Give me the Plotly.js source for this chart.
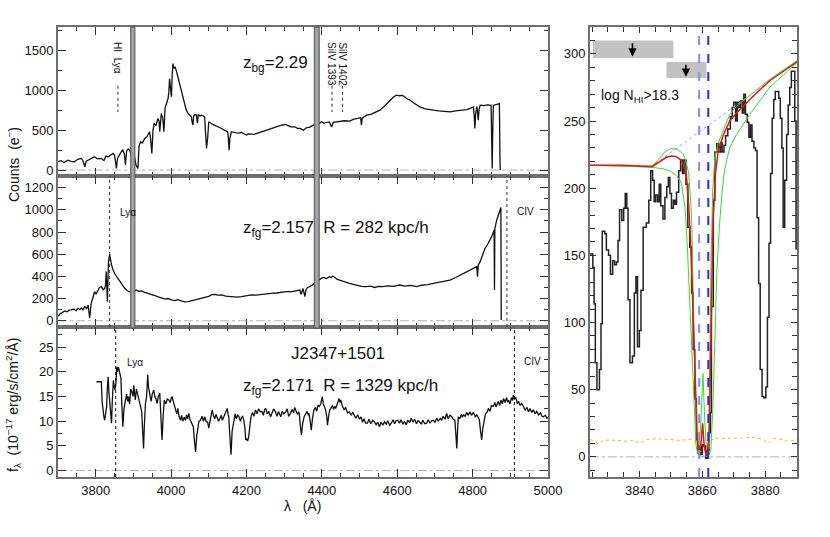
<!DOCTYPE html>
<html>
<head>
<meta charset="utf-8">
<script src="https://cdn.plot.ly/plotly-3.0.1.min.js"></script>
<style>html,body{margin:0;padding:0;background:#fff}#chart{width:830px;height:537px}</style>
</head>
<body>
<div id="chart"></div>
<script>
// background quasar spectrum (counts)
const bgWave = [3700,3708,3716,3726,3735,3744,3752,3762,3766,3771,3775,3780,3788,3797,3805,3815,3822,3827,3833,3840,3846,3850,3855,3858,3864,3868,3872,3876,3879,3882,3886,3890,3895,3900,3903,3907,3912,3915,3919,3924,3930,3936,3943,3946,3949,3952,3955,3960,3965,3968,3970,3972,3974,3978,3981,3984,3988,3992,3994,3996,3998,4001,4003,4005,4008,4011,4015,4019,4023,4027,4031,4036,4040,4045,4050,4054,4056,4058,4060,4064,4067,4070,4072,4076,4081,4085,4089,4091,4094,4097,4100,4108,4116,4125,4134,4142,4150,4152,4154,4156,4160,4170,4180,4187,4195,4200,4205,4213,4220,4230,4240,4250,4258,4266,4275,4285,4293,4302,4310,4318,4328,4335,4342,4351,4359,4368,4377,4385,4394,4399,4405,4412,4420,4424,4426,4430,4440,4450,4460,4474,4485,4495,4503,4505,4507,4512,4519,4530,4540,4554,4565,4575,4581,4590,4598,4605,4612,4616,4625,4634,4645,4660,4675,4685,4696,4710,4725,4740,4755,4765,4775,4785,4795,4802,4804,4806,4808,4811,4813,4815,4817,4820,4830,4840,4849,4851,4852,4853,4855,4860,4866,4871,4872,4873];
const bgCounts = [105,118,95,125,110,105,135,146,120,42,110,125,150,167,140,146,120,175,167,190,209,185,21,150,209,230,251,200,63,240,264,250,180,140,167,60,21,300,356,340,398,420,482,380,209,500,586,560,649,620,482,680,712,650,482,780,858,900,980,1152,1050,921,1200,1340,1280,1298,1230,1152,1060,984,900,816,760,712,690,670,600,565,680,700,691,590,700,680,691,680,670,500,272,400,607,580,565,545,523,500,482,400,251,400,482,470,465,473,450,440,455,448,450,465,482,500,515,523,540,560,565,573,560,545,544,525,523,502,532,540,565,570,590,607,590,600,605,560,544,599,605,610,620,616,640,650,660,565,650,670,691,700,720,754,800,850,879,920,942,935,940,934,900,879,840,795,770,760,754,745,740,733,745,750,754,760,780,795,700,523,700,800,740,628,760,816,810,820,815,400,21,400,816,820,830,837,400,0];

// foreground quasar spectrum (counts)
const fgWave = [3700,3705,3712,3718,3724,3730,3735,3742,3748,3753,3758,3762,3766,3771,3776,3780,3784,3786,3788,3792,3797,3801,3806,3810,3815,3820,3824,3826,3828,3830,3831,3833,3834,3837,3839,3842,3846,3850,3857,3864,3870,3877,3884,3890,3895,3900,3904,3908,3914,3921,3930,3939,3948,3957,3966,3974,3985,3992,4001,4010,4018,4027,4036,4045,4054,4063,4075,4089,4100,4108,4116,4125,4134,4145,4160,4175,4187,4200,4213,4225,4240,4252,4266,4280,4293,4305,4320,4330,4337,4342,4344,4346,4350,4355,4358,4362,4368,4375,4381,4390,4398,4405,4412,4420,4425,4429,4435,4440,4447,4455,4465,4473,4485,4495,4505,4517,4530,4540,4550,4561,4575,4590,4606,4620,4635,4652,4665,4680,4696,4710,4725,4740,4755,4767,4780,4793,4803,4811,4813,4815,4820,4826,4833,4840,4846,4852,4857,4858,4859,4864,4870,4875,4876];
const fgCounts = [40,60,75,88,80,95,97,105,90,112,100,115,97,127,110,142,22,120,157,200,262,240,277,300,307,280,292,320,443,300,172,420,533,599,540,503,460,428,390,352,320,292,270,262,255,250,270,277,265,268,255,247,235,226,215,208,195,200,187,182,190,178,170,172,180,187,200,208,220,235,238,230,232,222,217,212,217,225,232,230,238,245,247,250,256,262,262,270,277,277,240,247,290,217,280,300,307,320,337,360,382,390,380,397,390,403,385,375,367,355,345,337,325,320,310,307,312,300,310,307,315,310,322,312,318,307,320,325,337,345,355,367,390,412,435,458,475,488,397,500,533,590,653,690,728,770,819,277,830,909,970,1023,6];

// flux-calibrated spectrum of J2347+1501
const fluxWave = [3802,3815,3817,3820,3822,3824,3827,3829,3831,3833,3835,3838,3840,3842,3844,3847,3849,3851,3854,3856,3858,3860,3862,3864,3867,3869,3870,3872,3875,3878,3882,3885,3887,3890,3893,3896,3899,3901,3903,3905,3908,3911,3914,3918,3922,3925,3927,3929,3932,3935,3938,3940,3942,3944,3947,3950,3954,3957,3960,3963,3966,3970,3973,3976,3979,3982,3986,3990,3994,3998,4001,4003,4006,4009,4012,4015,4018,4021,4025,4028,4031,4035,4038,4041,4044,4047,4050,4053,4056,4059,4062,4065,4068,4071,4074,4078,4082,4086,4089,4093,4097,4100,4103,4106,4109,4113,4116,4119,4122,4126,4130,4133,4136,4140,4144,4149,4151,4153,4156,4159,4162,4166,4170,4173,4177,4180,4184,4187,4190,4193,4196,4198,4200,4203,4206,4209,4212,4216,4220,4224,4228,4232,4237,4241,4245,4248,4251,4255,4259,4264,4268,4272,4277,4281,4285,4288,4291,4295,4299,4304,4308,4312,4317,4321,4325,4328,4331,4335,4338,4340,4343,4346,4349,4353,4357,4361,4364,4366,4369,4372,4375,4379,4383,4386,4390,4393,4397,4401,4404,4407,4410,4413,4415,4418,4421,4424,4428,4431,4434,4437,4441,4444,4446,4448,4450,4454,4459,4463,4468,4473,4478,4482,4486,4490,4495,4500,4504,4508,4512,4516,4521,4525,4530,4535,4539,4544,4548,4553,4557,4562,4566,4571,4575,4580,4584,4589,4593,4597,4602,4606,4610,4615,4619,4624,4628,4633,4637,4642,4646,4651,4655,4659,4664,4668,4673,4678,4682,4687,4691,4696,4700,4705,4709,4714,4718,4722,4727,4731,4735,4740,4745,4749,4753,4756,4758,4760,4762,4766,4770,4773,4776,4780,4784,4788,4793,4797,4802,4807,4811,4815,4818,4821,4824,4827,4830,4834,4838,4842,4846,4850,4855,4859,4862,4865,4868,4872,4875,4879,4882,4886,4890,4893,4895,4899,4903,4906,4908,4911,4915,4918,4922,4926,4930,4935,4939,4944,4948,4952,4957,4961,4966,4970,4975,4980,4984,4988,4993,4997,5000];
const fluxVal = [18,18,14,11.6,10.8,10.2,12,13,17,19,16,13.6,11,9.6,14,18.3,17,16.3,18,21,20,21,20.4,19.5,18.7,14,11,8.9,12.5,13.6,15.5,14,15,13.5,16.5,16,15,17.3,16,14.3,16.5,15.7,14.5,13.3,12,8,4.5,9,13.6,15,19.4,17,16,15,14,15.5,16.3,15,14.5,13.6,15,15.7,12,6.2,11,14.3,13.5,14.5,14.3,13.8,14.8,15,14,13,12.3,11.5,12.6,11,10.2,11.2,10,10.8,10.2,11.3,10.5,11.6,10.4,9.8,9.5,8.9,6,3.8,7,8.9,10,10.2,11,10,10.9,10,9.8,8.6,10,11.5,12.3,11,10.5,11.4,10.9,10,10.6,11.2,10.2,11,11.5,12.6,11.5,10.9,7,3.2,8,10.2,11.5,10.5,11.3,10.9,10,10.8,11,10.2,8.5,6.2,6.5,6,6.9,9,10.9,11.8,11,12.3,11.5,12.5,11.9,12,11.2,12.3,12.6,11.5,12,10.9,11.8,12.5,11.9,11,12,11.3,10.9,12,11.5,11.9,12.5,11,11.6,12.4,11.7,12.8,12.3,11.4,11.8,11.6,9,7.2,9.5,10.9,11.5,12,11.2,11.6,10,8.2,10.5,12.3,12.8,12,13.2,13,13.5,15,13.5,13,12.3,11,9.2,11,12.3,12.6,13.2,12.4,13,12.6,13.5,14.2,14.6,13.8,14.3,13.2,12.3,12.8,11.7,11.9,11.2,11.8,11.3,10.6,11.3,10.4,10.9,9.8,10.5,9.6,9.6,10.4,9.5,10.2,9.9,9.3,9.8,8.9,9.8,9.2,9.9,9.4,10.1,9.2,9.6,10.3,9.5,10.1,10.2,9.6,10.3,9.4,9.9,9.3,10.2,9.7,10.6,9.8,10.4,9.5,10.1,9.9,9.4,10.2,9.5,9.6,10.3,9.6,10.1,10.2,9.8,10.6,10,10.6,10.2,11,10.4,11.6,10.5,11.2,10.9,10.4,10.2,7,4.5,8,10.9,10.5,11.4,10.8,11.3,11,11.8,11.2,11.9,11.2,11.8,10.9,11.3,10.8,10.2,8,6.2,8.5,10.2,11.5,11.8,12.6,12,13.2,13,13.8,12.9,13.6,14,13.2,14.3,13.5,14.6,13.8,14.8,13.9,14.3,13.5,14.8,14.2,15.3,14.5,14.8,13.6,14,13.2,13.6,13,12.2,12.8,11.9,12.6,11.8,12.3,11.5,12,11.3,11.7,11,10.9,11.2,10.6,10.8];

// zoom on the absorber (counts per pixel, stepped)
const zoomWave = [3824.3,3825.2,3825.6,3826.0,3826.5,3827.3,3827.8,3828.2,3829.0,3829.5,3830.2,3830.8,3831.5,3832.1,3832.7,3833.2,3833.7,3834.4,3835.0,3835.5,3836.0,3836.4,3837.0,3837.8,3838.4,3838.9,3839.4,3840.0,3840.5,3841.2,3842.2,3843.0,3843.6,3844.2,3844.7,3845.2,3845.8,3846.3,3846.8,3847.5,3848.1,3848.7,3849.2,3849.7,3850.2,3850.8,3851.3,3851.8,3852.5,3853.1,3853.7,3854.2,3854.8,3855.4,3856.0,3856.6,3857.1,3857.6,3858.1,3858.5,3859.0,3859.5,3860.0,3860.5,3861.1,3861.6,3862.1,3862.6,3862.9,3863.5,3864.0,3864.6,3865.2,3865.8,3866.3,3866.9,3867.4,3868.1,3868.9,3869.5,3870.0,3870.6,3871.1,3871.6,3872.1,3872.7,3873.2,3873.7,3874.3,3874.8,3875.3,3875.8,3876.4,3876.9,3877.4,3877.9,3878.4,3879.0,3879.6,3880.2,3880.7,3881.2,3881.7,3882.2,3882.7,3883.2,3883.8,3884.3,3884.8,3885.3,3885.7,3886.2,3886.8,3887.3,3887.8,3888.3,3888.9,3889.4,3889.8,3890.1];
const zoomFlux = [151,141,114,70,50,65,99,168,166,154,150,136,146,143,145,161,184,176,185,196,185,117,70,75,122,134,82,94,124,171,174,191,213,206,190,195,190,203,187,177,193,201,208,196,185,191,188,197,213,221,211,221,203,171,156,122,80,43,13,3,8,2,9,8,-1,5,18,33,112,191,227,233,227,234,227,232,239,244,253,260,264,250,264,260,265,256,270,255,249,238,247,235,230,228,178,129,65,45,44,52,104,159,211,252,266,272,272,267,252,230,171,206,240,262,275,287,287,250,155,155];

// noise, continuum and Voigt fits
const errWave = [3824.3,3825.9,3827,3828.5,3832.8,3836.5,3838.1,3840.2,3842.3,3847.6,3852.9,3857.1,3858,3858.7,3860.3,3861.3,3862.2,3863.5,3867.7,3873,3876.1,3879.3,3880.9,3882.5,3885.7,3887.3,3890.1];
const errFlux = [12.8,11.6,9.8,12,12.3,11.6,12.3,10.3,12.8,13.3,12.3,12.8,9,4.1,4.1,5.4,10.3,13.3,13.8,14,14.5,12.8,10.3,13.3,12.8,11.6,13.3];
const contWave = [3824.3,3844,3890.1];
const contFlux = [217,216.5,294.5];
const redWave = [3824.3,3835,3844,3846,3848.6,3850.2,3851.8,3853.4,3854.5,3855.0,3855.7,3856.4,3856.8,3857.4,3858.0,3858.4,3858.9,3859.5,3860.1,3860.6,3861.1,3861.6,3862.2,3862.6,3862.9,3863.4,3864.2,3865.0,3866.6,3868.7,3870.9,3875.1,3881.4,3890.1];
const redFlux = [217,217,216,219,223,224,223.5,220.6,214,208,186,154,122,75,38,13,3,8,25,8,2,3,18,62,112,174,211,227,239,250,256,266,280,294];
const greenHiWave = [3824.3,3844,3846,3848,3850,3852,3853.9,3855.0,3855.7,3856.6,3857.2,3857.8,3858.4,3858.9,3859.5,3860.2,3860.8,3861.4,3862.0,3862.4,3862.8,3863.3,3864.0,3865.0,3866.6,3868.7,3870.9,3875.1,3881.4,3890.1];
const greenHiFlux = [217,216.5,221,227,229.5,229,225.5,218,211,179,112,43,13,4,25,62,25,5,8,87,149,198,223,233,243,255,261,269,281,295];
const greenLoWave = [3824.3,3844,3847.6,3849.7,3851.5,3852.9,3853.4,3854.5,3855.3,3856.0,3856.8,3857.4,3858.0,3858.7,3859.7,3860.8,3861.9,3862.7,3863.3,3864.0,3864.6,3865.5,3866.3,3867.1,3868.7,3870.9,3875.1,3881.4,3890.1];
const greenLoFlux = [217,215.6,214.4,213,210,205.7,203,186,154,117,75,38,8,2,0.5,0.5,0.5,5,33,87,137,174,198,214,230,240,255,275,293.5];

// masked regions and line markers
const maskLo = [3893, 4380];
const maskHi = [3904, 4393];
const topLineWave = [3859, 4427, 4455];
const topLineText = ['HI  Ly\u03b1', 'SiIV 1393', 'SiIV 1402'];
const midLineWave = [3837, 4891];
const botLineWave = [3853, 4911];
const limLo = [3825.2, 3848.6];
const limHi = [3850.8, 3861.3];
const limTop = [310, 294];
const limBot = [297, 282];
const limArrow = [3837.8, 3854.8];
const dlaCenters = [3859.0, 3861.9];

const FONT = 'Liberation Sans, Arial, sans-serif';
const W = 830, H = 537;
const px = v => v / W;
const py = v => 1 - v / H;

function ax(extra) {
    return Object.assign({
        showline: true, linecolor: '#6e6e6e', linewidth: 2, mirror: 'allticks',
        ticks: 'inside', ticklen: 8, tickwidth: 1, tickcolor: '#333',
        showgrid: false, zeroline: false,
        tickfont: {family: FONT, size: 13, color: '#111'}
    }, extra);
}
function minor(d, len) {
    return {dtick: d, ticklen: len || 4, ticks: 'inside', tickcolor: '#333', tickwidth: 1};
}

const LEFT = [px(58), px(548)];
const black = {color: '#111', width: 1.3};

const traces = [
    {x: bgWave, y: bgCounts, xaxis: 'x', yaxis: 'y', mode: 'lines', line: black},
    {x: fgWave, y: fgCounts, xaxis: 'x2', yaxis: 'y2', mode: 'lines', line: black},
    {x: fluxWave, y: fluxVal, xaxis: 'x3', yaxis: 'y3', mode: 'lines', line: black},
    {x: zoomWave, y: zoomFlux, xaxis: 'x4', yaxis: 'y4', mode: 'lines', line: {color: '#222', width: 1.5, shape: 'hv'}},
    {x: errWave, y: errFlux, xaxis: 'x4', yaxis: 'y4', mode: 'lines', line: {color: '#ffae33', width: 1, dash: 'dot', shape: 'spline'}},
    {x: contWave, y: contFlux, xaxis: 'x4', yaxis: 'y4', mode: 'lines', line: {color: '#c58cff', width: 1, dash: 'dot'}},
    {x: greenLoWave, y: greenLoFlux, xaxis: 'x4', yaxis: 'y4', mode: 'lines', line: {color: '#33dd33', width: 1}},
    {x: greenHiWave, y: greenHiFlux, xaxis: 'x4', yaxis: 'y4', mode: 'lines', line: {color: '#33dd33', width: 1}},
    {x: redWave, y: redFlux, xaxis: 'x4', yaxis: 'y4', mode: 'lines', line: {color: '#ee1111', width: 1.5}}
];

const shapes = [];
const annotations = [];
// dash-dot zero lines
[['x', 'y'], ['x2', 'y2'], ['x3', 'y3'], ['x4', 'y4']].forEach(p => {
    shapes.push({type: 'line', xref: p[0] + ' domain', x0: 0, x1: 1, yref: p[1], y0: 0, y1: 0,
        line: {color: '#b5b5b5', width: 1, dash: 'dashdot'}, layer: 'below'});
});
// masked sky regions
maskLo.forEach((lo, i) => {
    shapes.push({type: 'rect', xref: 'x', x0: lo, x1: maskHi[i], yref: 'paper', y0: py(328), y1: py(27),
        fillcolor: '#a3a3a3', line: {color: '#505050', width: 1}});
});
// line identifications, top panel
topLineWave.forEach((w, i) => {
    shapes.push({type: 'line', xref: 'x', x0: w, x1: w, yref: 'y', y0: 1060, y1: 730,
        line: {color: '#333', width: 1, dash: 'dot'}});
    annotations.push({xref: 'x', x: w, yref: 'paper', y: py(40), yanchor: 'top', xanchor: 'center',
        text: topLineText[i], textangle: 90, showarrow: false, font: {family: FONT, size: 10, color: '#111'}});
});
midLineWave.forEach(w => shapes.push({type: 'line', xref: 'x2', x0: w, x1: w, yref: 'y2 domain', y0: 0, y1: 1,
    line: {color: '#333', width: 1, dash: 'dot'}}));
botLineWave.forEach(w => shapes.push({type: 'line', xref: 'x3', x0: w, x1: w, yref: 'y3 domain', y0: 0, y1: 1,
    line: {color: '#111', width: 1, dash: 'dot'}}));
// upper-limit boxes
limLo.forEach((lo, i) => {
    shapes.push({type: 'rect', xref: 'x4', yref: 'y4', x0: lo, x1: limHi[i], y0: limBot[i], y1: limTop[i],
        fillcolor: '#c2c2c2', line: {width: 0}, layer: 'below'});
    annotations.push({xref: 'x4', yref: 'y4', axref: 'x4', ayref: 'y4', x: limArrow[i], y: limBot[i] + 1,
        ax: limArrow[i], ay: limTop[i] - 1, text: '', showarrow: true, arrowhead: 2, arrowsize: 1.1,
        arrowwidth: 1.5, arrowcolor: '#000'});
});
// absorber components
dlaCenters.forEach((w, i) => shapes.push({type: 'line', xref: 'x4', x0: w, x1: w, yref: 'y4 domain', y0: 0, y1: 1,
    line: {color: i === 0 ? '#8a8aff' : '#2a2aff', width: 2, dash: 'dash'}}));

const small = {family: FONT, size: 10, color: '#111'};
const big = {family: FONT, size: 17, color: '#111'};
const mid = {family: FONT, size: 14, color: '#111'};
function label(x, y, text, font, extra) {
    return Object.assign({xref: 'paper', yref: 'paper', x: px(x), y: py(y), xanchor: 'left', yanchor: 'middle',
        text: text, showarrow: false, font: font}, extra || {});
}
annotations.push(
    label(241, 64, 'z<sub>bg</sub>=2.29', big),
    label(241, 229, 'z<sub>fg</sub>=2.157  R = 282 kpc/h', big),
    label(338, 353, 'J2347+1501', big, {xanchor: 'center'}),
    label(241, 387, 'z<sub>fg</sub>=2.171  R = 1329 kpc/h', big),
    label(118, 212, 'Ly\u03b1', small),
    label(515, 211, 'CIV', small),
    label(125, 362, 'Ly\u03b1', small),
    label(522, 361, 'CIV', small),
    label(599, 96, 'log N<sub>HI</sub>>18.3', mid),
    label(13, 165, 'Counts  (e<sup>\u2212</sup>)', mid, {xanchor: 'center', textangle: -90}),
    label(13, 405, 'f<sub>\u03bb</sub>  (10<sup>\u221217</sup> erg/s/cm<sup>2</sup>/\u00c5)', mid, {xanchor: 'center', textangle: -90}),
    label(302, 506, '\u03bb   (\u00c5)', mid, {xanchor: 'center'})
);

const layout = {
    width: W, height: H, margin: {l: 0, r: 0, t: 0, b: 0},
    paper_bgcolor: '#fff', plot_bgcolor: 'rgba(0,0,0,0)', showlegend: false,
    font: {family: FONT},
    xaxis: ax({domain: LEFT, range: [3700, 5000], anchor: 'y', dtick: 200, minor: minor(50), showticklabels: false}),
    yaxis: ax({domain: [py(176), py(27)], range: [-75, 1800], anchor: 'x', dtick: 500, minor: minor(250)}),
    xaxis2: ax({domain: LEFT, range: [3700, 5000], anchor: 'y2', dtick: 200, minor: minor(50), showticklabels: false}),
    yaxis2: ax({domain: [py(327), py(176)], range: [-57, 1306], anchor: 'x2', dtick: 200, minor: minor(100)}),
    xaxis3: ax({domain: LEFT, range: [3700, 5000], anchor: 'y3', dtick: 200, minor: minor(50)}),
    yaxis3: ax({domain: [py(477), py(327)], range: [-1.3, 29.1], anchor: 'x3', dtick: 5, minor: minor(2.5)}),
    xaxis4: ax({domain: [px(590), px(797)], range: [3824.3, 3890.1], anchor: 'y4', dtick: 20, ticklen: 6, minor: minor(5, 5)}),
    yaxis4: ax({domain: [py(477), py(27)], range: [-15, 320], anchor: 'x4', dtick: 50, ticklen: 6, minor: minor(10, 5)}),
    shapes: shapes,
    annotations: annotations
};

Plotly.newPlot('chart', traces, layout, {displayModeBar: false, staticPlot: true});
</script>
</body>
</html>
